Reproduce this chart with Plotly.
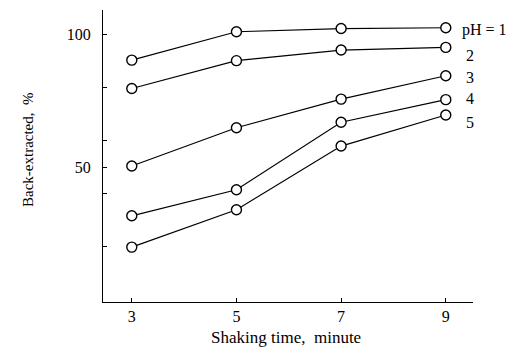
import plotly.graph_objects as go

times = [3, 5, 7, 9]
ph_labels = ["pH = 1", "2", "3", "4", "5"]
ph1 = [90.3, 101.0, 102.2, 102.5]
ph2 = [79.6, 90.1, 94.1, 95.1]
ph3 = [50.4, 64.8, 75.6, 84.4]
ph4 = [31.6, 41.4, 66.9, 75.4]
ph5 = [19.8, 33.9, 57.9, 69.6]
series = [ph1, ph2, ph3, ph4, ph5]
ytick_vals = [20, 40, 50, 60, 80, 100]
ytick_text = ["", "", "50", "", "", "100"]

W, H = 506, 347
L, R, T, B = 103, 33, 10, 45

fig = go.Figure()
for s in series:
    fig.add_trace(go.Scatter(
        x=times, y=s, mode="lines+markers",
        line=dict(color="black", width=1.2),
        marker=dict(symbol="circle", size=10, color="white",
                    line=dict(color="black", width=1.4)),
        showlegend=False, cliponaxis=False))

label_shift = [(14, -2), (18, -8), (18, -2), (18, 1), (18, -7)]
for lab, s, (dx, dy) in zip(ph_labels, series, label_shift):
    fig.add_annotation(x=times[-1], y=s[-1], text=lab, showarrow=False,
                       xanchor="left", yanchor="middle", xshift=dx, yshift=dy,
                       font=dict(family="Liberation Serif", size=16, color="black"))

font = dict(family="Liberation Serif", size=16, color="black")
fig.update_layout(
    width=W, height=H,
    margin=dict(l=L, r=R, t=T, b=B, pad=0),
    paper_bgcolor="white", plot_bgcolor="white",
    font=font,
    xaxis=dict(range=[2.45, 9.52], tickvals=times, ticktext=[str(t) for t in times],
               ticks="inside", ticklen=4, tickcolor="black", showline=True,
               linecolor="black", linewidth=1, showgrid=False, zeroline=False,
               tickfont=font),
    yaxis=dict(range=[-0.9, 109.2], tickvals=ytick_vals, ticktext=ytick_text,
               ticks="inside", ticklen=4, tickcolor="black", showline=True,
               linecolor="black", linewidth=1, showgrid=False, zeroline=False,
               tickfont=font, ticklabelstandoff=8),
)
pw = W - L - R
ph = H - T - B
fig.add_annotation(xref="paper", yref="paper", x=(286 - L) / pw, y=(302 - 337) / ph,
                   text="Shaking time,\u00a0\u00a0minute", showarrow=False,
                   xanchor="center", yanchor="middle",
                   font=dict(family="Liberation Serif", size=17, color="black"))
fig.add_annotation(xref="paper", yref="paper", x=(28 - L) / pw, y=(302 - 150) / ph,
                   text="Back-extracted,\u00a0\u00a0%", showarrow=False, textangle=-90,
                   xanchor="center", yanchor="middle",
                   font=dict(family="Liberation Serif", size=15, color="black"))

fig.write_html("out.html")
